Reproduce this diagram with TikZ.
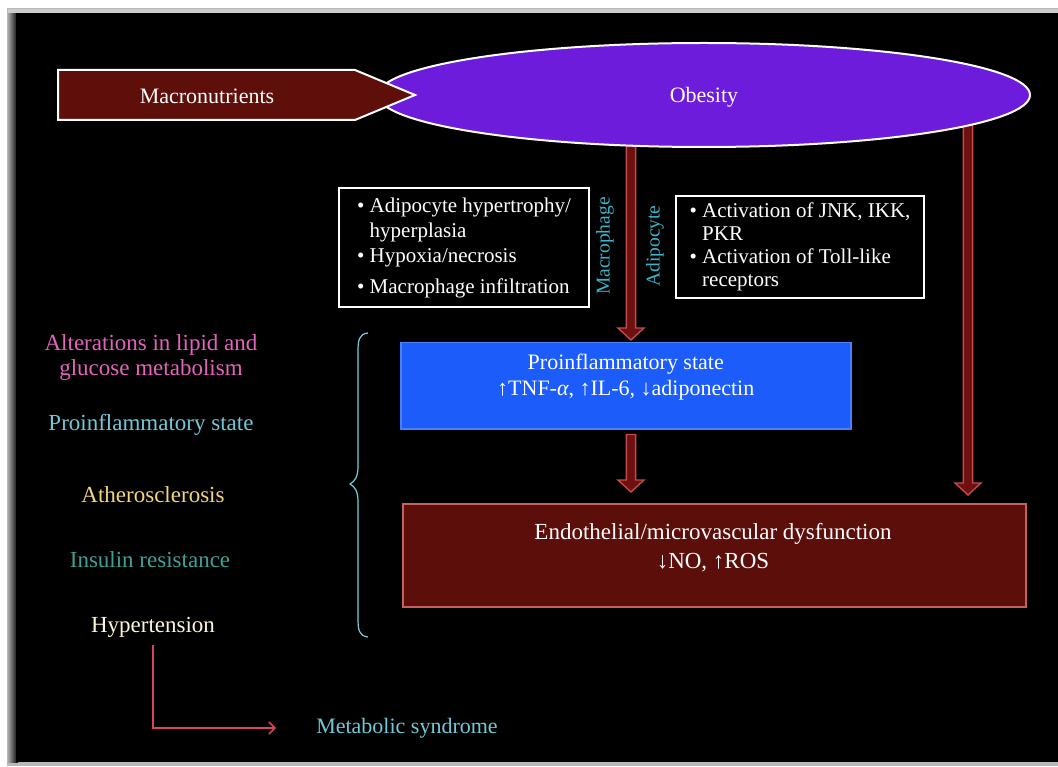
\documentclass[tikz,border=0pt]{standalone}
\usepackage{fontspec}
\setmainfont{Liberation Serif}
\usetikzlibrary{shapes.geometric,calc,arrows.meta}

\definecolor{obesityfill}{RGB}{108,28,218}
\definecolor{macrofill}{RGB}{95,15,10}
\definecolor{bluefill}{RGB}{28,92,250}
\definecolor{blueedge}{RGB}{70,130,255}
\definecolor{endofill}{RGB}{92,14,10}
\definecolor{endoedge}{RGB}{200,95,95}
\definecolor{arrowfill}{RGB}{110,16,16}
\definecolor{arrowedge}{RGB}{195,75,75}
\definecolor{celltext}{RGB}{60,180,200}
\definecolor{lipidtext}{RGB}{228,100,188}
\definecolor{inflamtext}{RGB}{115,200,215}
\definecolor{atherotext}{RGB}{240,214,128}
\definecolor{insulintext}{RGB}{62,160,150}
\definecolor{hypertext}{RGB}{255,244,220}
\definecolor{syndtext}{RGB}{115,200,215}
\definecolor{syndline}{RGB}{215,70,90}
\definecolor{bracecol}{RGB}{120,205,220}

% vertical block arrow from #1 (top) down to #2 (tip)
\newcommand\blockarrow[2]{%
  \path (#1) coordinate (ba1) (#2) coordinate (ba2);
  \draw[fill=arrowfill, draw=arrowedge, line width=1.4pt, line join=miter]
    ($(ba1)+(-4.6,0)$) -- ($(ba2)+(-4.6,-12)$) -- ($(ba2)+(-13,-12)$) -- (ba2)
    -- ($(ba2)+(13,-12)$) -- ($(ba2)+(4.6,-12)$) -- ($(ba1)+(4.6,0)$) -- cycle;}

\begin{document}
\begin{tikzpicture}[x=1pt,y=-1pt,
  every node/.style={font=\fontsize{22}{26}\selectfont, text=white, inner sep=0pt},
  boxtext/.style={font=\fontsize{21}{25}\selectfont, align=left},
  wbox/.style={draw=white, line width=2pt, fill=black},
  celllabel/.style={font=\fontsize{19.5}{22}\selectfont, text=celltext, rotate=90},
  sidelabel/.style={align=center, font=\fontsize{23}{25}\selectfont}]

% page and dark panel
\useasboundingbox (0,0) rectangle (1058,767);
\fill[white] (0,0) rectangle (1058,767);
\fill[gray!55] (7,8) rectangle (1058,766);
\shade[left color=gray!70, right color=black] (8,13) rectangle (18,762);
\fill[black] (16,13) rectangle (1058,762);
\fill[gray!40] (8,9) rectangle (1058,13);

% node positions
\node[ellipse, minimum width=652, minimum height=104, fill=obesityfill] (obesity) at (704,95) {};

\node[wbox, minimum width=450, minimum height=86, anchor=north west, fill=bluefill, draw=blueedge, line width=1.5pt] (blue) at (400,342) {};
\node[anchor=north west, minimum width=623, minimum height=103, fill=endofill, draw=endoedge, line width=1.5pt] (endo) at (402,503) {};

% columns of the block arrows
\coordinate (colA) at (631,0);
\coordinate (colB) at (968,0);
\coordinate (a1s) at (colA |- obesity.center);
\coordinate (a1e) at (colA |- blue.north);
\coordinate (a2s) at (colA |- blue.south);
\coordinate (a2e) at (colA |- endo.north);
\coordinate (a3s) at (colB |- obesity.center);
\coordinate (a3e) at (colB |- endo.north);

\blockarrow{a1s}{$(a1e)+(0,-2)$}
\blockarrow{$(a2s)+(0,5)$}{$(a2e)+(0,-11)$}
\blockarrow{a3s}{$(a3e)+(0,-8)$}

% obesity ellipse over the arrow tails
\node[ellipse, minimum width=652, minimum height=104, fill=obesityfill, draw=white, line width=2pt] (obesityshape) at (obesity) {};
\node at (704,97) (obesitytext) {Obesity};

% macronutrients pointer
\draw[fill=macrofill, draw=white, line width=2pt, line join=miter]
  (58,70) -- (355,70) -- (415,95) -- (355,120) -- (58,120) -- cycle;
\node (macro) at (207,96) {Macronutrients};

% box texts
\node at (blue.center) [yshift=9pt, align=center] (bluetext)
  {Proinflammatory state\\↑TNF-\textit{α}, ↑IL-6, ↓adiponectin};
\node at (713,548) [align=center, font=\fontsize{23}{29}\selectfont] (endotext)
  {Endothelial/microvascular dysfunction\\↓NO, ↑ROS};

\node[wbox, minimum width=250, minimum height=119, anchor=north west] (lbox) at (338,187) {};
\node[boxtext] at (lbox.center) (lboxtext)
  {• Adipocyte hypertrophy/\\\phantom{• }hyperplasia\\• Hypoxia/necrosis\\[6pt]• Macrophage infiltration};

\node[wbox, minimum width=248, minimum height=102, anchor=north west] (rbox) at (675,195) {};
\node[boxtext, font=\fontsize{21}{23}\selectfont] at (rbox.center) (rboxtext)
  {• Activation of JNK, IKK,\\\phantom{• }PKR\\• Activation of Toll-like\\\phantom{• }receptors};

\node[celllabel] (macrophage) at (605,246) {Macrophage};
\node[celllabel] (adipocyte) at (655,246) {Adipocyte};

% left column of features
\node[sidelabel, text=lipidtext] (lipid) at (151,358)
  {Alterations in lipid and\\glucose metabolism};
\node[sidelabel, text=inflamtext] (inflam) at (151,425) {Proinflammatory state};
\node[sidelabel, text=atherotext] (athero) at (153,495) {Atherosclerosis};
\node[sidelabel, text=insulintext] (insulin) at (150,560) {Insulin resistance};
\node[sidelabel, text=hypertext] (hyper) at (153,627) {Hypertension};
\node[text=syndtext] (synd) at (407,728) {Metabolic syndrome};

% brace grouping the features
\draw[bracecol, line width=1.2pt]
  (368,333) .. controls (359,334) and (358,340) .. (358,352) -- (358,466)
  .. controls (358,477) and (355,481) .. (350,484)
  .. controls (355,487) and (358,491) .. (358,502) -- (358,618)
  .. controls (358,630) and (359,636) .. (368,637);

% link to metabolic syndrome
\draw[syndline, line width=1.6pt, -{Straight Barb[length=6pt,width=12pt]}, shorten <=8pt, shorten >=40pt]
  (hyper.south) |- (synd.west);
\end{tikzpicture}
\end{document}
